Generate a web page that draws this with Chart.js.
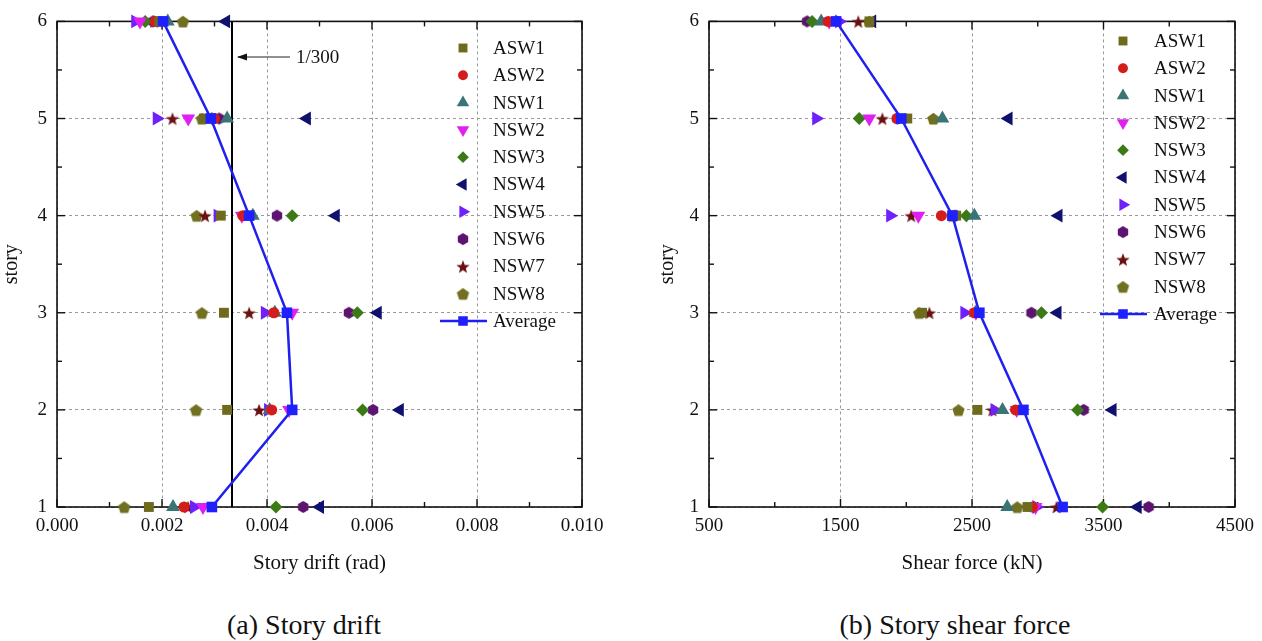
<!DOCTYPE html>
<html>
<head>
<meta charset="utf-8">
<script src="https://cdn.jsdelivr.net/npm/chart.js@4.4.1/dist/chart.umd.min.js"></script>
<style>
  body { margin: 0; background: #fff; width: 1262px; height: 641px; overflow: hidden; position: relative; font-family: "Liberation Serif", "Times New Roman", serif; }
  canvas { position: absolute; top: 0; }
  #drift { left: 0; }
  #shear { left: 650px; }
  .cap { position: absolute; top: 610px; font-size: 28px; line-height: 30px; color: #111; text-align: center; width: 400px; }
</style>
</head>
<body>
<canvas id="drift" width="620" height="580"></canvas>
<canvas id="shear" width="612" height="580"></canvas>
<div class="cap" style="left:104px">(a) Story drift</div>
<div class="cap" style="left:755px">(b) Story shear force</div>
<script>
// stories 1 -> 6
const stories = [1, 2, 3, 4, 5, 6];
const names = ['ASW1', 'ASW2', 'NSW1', 'NSW2', 'NSW3', 'NSW4', 'NSW5', 'NSW6', 'NSW7', 'NSW8'];

// story drift (rad)
const driftASW1 = [0.00175, 0.00324, 0.00318, 0.00312, 0.00280, 0.00195];
const driftASW2 = [0.00242, 0.00409, 0.00413, 0.00354, 0.00300, 0.00187];
const driftNSW1 = [0.00221, 0.00405, 0.00415, 0.00373, 0.00324, 0.00211];
const driftNSW2 = [0.00278, 0.00442, 0.00448, 0.00352, 0.00250, 0.00158];
const driftNSW3 = [0.00417, 0.00582, 0.00572, 0.00448, 0.00295, 0.00168];
const driftNSW4 = [0.00501, 0.00653, 0.00611, 0.00531, 0.00476, 0.00322];
const driftNSW5 = [0.00261, 0.00402, 0.00396, 0.00306, 0.00190, 0.00149];
const driftNSW6 = [0.00469, 0.00602, 0.00556, 0.00419, 0.00309, 0.00183];
const driftNSW7 = [0.00250, 0.00385, 0.00366, 0.00282, 0.00220, 0.00185];
const driftNSW8 = [0.00128, 0.00265, 0.00276, 0.00266, 0.00276, 0.00240];
const driftAverage = [0.00295, 0.00448, 0.00438, 0.00366, 0.00293, 0.00202];

// story shear force (kN)
const shearASW1 = [2922, 2541, 2120, 2380, 2008, 1720];
const shearASW2 = [2960, 2831, 2518, 2267, 1930, 1406];
const shearNSW1 = [2768, 2732, 2526, 2518, 2275, 1353];
const shearNSW2 = [2983, 2840, 2530, 2092, 1719, 1414];
const shearNSW3 = [3493, 3303, 3028, 2457, 1642, 1284];
const shearNSW4 = [3760, 3569, 3150, 3158, 2778, 1741];
const shearNSW5 = [2990, 2671, 2442, 1878, 1315, 1490];
const shearNSW6 = [3843, 3349, 2952, 2373, 1932, 1246];
const shearNSW7 = [3143, 2655, 2176, 2038, 1818, 1635];
const shearNSW8 = [2844, 2397, 2099, 2350, 2206, 1719];
const shearAverage = [3189, 2891, 2556, 2351, 1962, 1467];

// tick labels
const driftTicks = [0, 0.002, 0.004, 0.006, 0.008, 0.010];
const shearTicks = [500, 1500, 2500, 3500, 4500];
const storyTicks = [1, 2, 3, 4, 5, 6];
const driftLimit = 1 / 300;

const colors = ['#6f6b1c', '#d41c1c', '#3b7474', '#e020f0', '#3c7a18', '#10106e', '#7020f8', '#5c1470', '#6a1010', '#707020'];
const avgColor = '#1f1ff0';
const FONT = '"Liberation Serif", "Times New Roman", serif';

function shapeCanvas(kind, color, r) {
  const c = document.createElement('canvas');
  const s = Math.ceil(2 * r + 2);
  c.width = s; c.height = s;
  const g = c.getContext('2d');
  const cx = s / 2, cy = s / 2;
  g.fillStyle = color;
  g.beginPath();
  if (kind === 'hexagon') {
    for (let i = 0; i < 6; i++) {
      const a = Math.PI / 6 + i * Math.PI / 3;
      g.lineTo(cx + r * Math.cos(a), cy + r * Math.sin(a));
    }
  } else if (kind === 'pentagon') {
    for (let i = 0; i < 5; i++) {
      const a = -Math.PI / 2 + i * 2 * Math.PI / 5;
      g.lineTo(cx + r * Math.cos(a), cy + r * Math.sin(a) + 0.8);
    }
  } else {
    for (let i = 0; i < 10; i++) {
      const a = -Math.PI / 2 + i * Math.PI / 5;
      const rr = i % 2 ? r * 0.42 : r;
      g.lineTo(cx + rr * Math.cos(a), cy + rr * Math.sin(a) + 0.8);
    }
  }
  g.closePath();
  g.fill();
  return c;
}

const styles = [
  { pointStyle: 'rect', rotation: 0, radius: 7 },
  { pointStyle: 'circle', rotation: 0, radius: 5.5 },
  { pointStyle: 'triangle', rotation: 0, radius: 8 },
  { pointStyle: 'triangle', rotation: 180, radius: 8 },
  { pointStyle: 'rectRot', rotation: 0, radius: 6.5 },
  { pointStyle: 'triangle', rotation: -90, radius: 8 },
  { pointStyle: 'triangle', rotation: 90, radius: 8 },
  { pointStyle: shapeCanvas('hexagon', colors[7], 6), rotation: 0, radius: 6 },
  { pointStyle: shapeCanvas('star', colors[8], 7), rotation: 0, radius: 7 },
  { pointStyle: shapeCanvas('pentagon', colors[9], 6.5), rotation: 0, radius: 6.5 }
];
const avgStyle = { pointStyle: 'rect', rotation: 0, radius: 7.5 };

function makeDatasets(series, avg) {
  const sets = series.map((vals, i) => ({
    label: names[i],
    data: vals.map((v, k) => ({ x: v, y: stories[k] })),
    showLine: false,
    pointStyle: styles[i].pointStyle,
    pointRotation: styles[i].rotation,
    pointRadius: styles[i].radius,
    pointHoverRadius: styles[i].radius,
    pointBackgroundColor: colors[i],
    pointBorderColor: colors[i],
    pointBorderWidth: 0,
    clip: false
  }));
  sets.push({
    label: 'Average',
    data: avg.map((v, k) => ({ x: v, y: stories[k] })),
    showLine: true,
    borderColor: avgColor,
    borderWidth: 2.5,
    pointStyle: avgStyle.pointStyle,
    pointRadius: avgStyle.radius,
    pointHoverRadius: avgStyle.radius,
    pointBackgroundColor: '#2020ff',
    pointBorderColor: '#2020ff',
    pointBorderWidth: 0,
    order: -1,
    clip: false
  });
  return sets;
}

// frame and inward tick marks
const framePlugin = {
  id: 'frame',
  beforeDatasetsDraw(chart) {
    const { ctx, chartArea: a, scales: { x, y } } = chart;
    ctx.save();
    ctx.strokeStyle = '#111';
    ctx.lineWidth = 1.6;
    ctx.strokeRect(a.left, a.top, a.right - a.left, a.bottom - a.top);
    ctx.lineWidth = 1.4;
    const xt = x.ticks.map(t => t.value);
    const yt = y.ticks.map(t => t.value);
    const tick = (x1, y1, x2, y2) => { ctx.beginPath(); ctx.moveTo(x1, y1); ctx.lineTo(x2, y2); ctx.stroke(); };
    xt.forEach((v, i) => {
      const px = x.getPixelForValue(v);
      tick(px, a.bottom, px, a.bottom - 8);
      tick(px, a.top, px, a.top + 8);
      if (i < xt.length - 1) {
        const pm = x.getPixelForValue((v + xt[i + 1]) / 2);
        tick(pm, a.bottom, pm, a.bottom - 5);
        tick(pm, a.top, pm, a.top + 5);
      }
    });
    yt.forEach((v, i) => {
      const py = y.getPixelForValue(v);
      tick(a.left, py, a.left + 8, py);
      tick(a.right, py, a.right - 8, py);
      if (i < yt.length - 1) {
        const pm = y.getPixelForValue((v + yt[i + 1]) / 2);
        tick(a.left, pm, a.left + 5, pm);
        tick(a.right, pm, a.right - 5, pm);
      }
    });
    const lim = chart.options.plugins.limitLine;
    if (lim && lim.value) {
      const px = x.getPixelForValue(lim.value);
      ctx.lineWidth = 2;
      ctx.strokeStyle = '#000';
      tick(px, a.top, px, a.bottom);
      const ay = lim.y;
      ctx.lineWidth = 1.2;
      ctx.strokeStyle = '#222';
      tick(px + 6, ay, px + 58, ay);
      ctx.fillStyle = '#111';
      ctx.beginPath();
      ctx.moveTo(px + 5, ay);
      ctx.lineTo(px + 15, ay - 3.5);
      ctx.lineTo(px + 15, ay + 3.5);
      ctx.closePath();
      ctx.fill();
      ctx.font = '19px ' + FONT;
      ctx.textBaseline = 'middle';
      ctx.fillText(lim.label, px + 64, ay + 1);
    }
    ctx.restore();
  }
};

// legend inside the plot
const innerLegend = {
  id: 'innerLegend',
  afterDraw(chart) {
    const opt = chart.options.plugins.innerLegend;
    if (!opt) return;
    const { ctx, chartArea: a } = chart;
    const mx = a.right - opt.markerOff;
    const tx = a.right - opt.textOff;
    ctx.save();
    ctx.font = '19px ' + FONT;
    ctx.textBaseline = 'middle';
    chart.data.datasets.forEach((ds, i) => {
      const yy = opt.y0 + i * opt.dy;
      if (ds.showLine) {
        ctx.strokeStyle = ds.borderColor;
        ctx.lineWidth = ds.borderWidth;
        ctx.beginPath();
        ctx.moveTo(mx - 23, yy);
        ctx.lineTo(mx + 24, yy);
        ctx.stroke();
      }
      ctx.fillStyle = ds.pointBackgroundColor;
      ctx.strokeStyle = ds.pointBackgroundColor;
      Chart.helpers.drawPoint(ctx, {
        pointStyle: ds.pointStyle,
        rotation: ds.pointRotation || 0,
        radius: ds.pointRadius * 0.9,
        borderWidth: 0
      }, mx, yy);
      ctx.fillStyle = '#111';
      ctx.fillText(ds.label, tx, yy + 1);
    });
    ctx.restore();
  }
};

function makeChart(id, series, avg, cfg) {
  return new Chart(document.getElementById(id), {
    type: 'scatter',
    data: { datasets: makeDatasets(series, avg) },
    options: {
      responsive: false,
      animation: false,
      events: [],
      layout: { padding: { top: 18, right: cfg.padRight, left: 0, bottom: 0 } },
      plugins: {
        legend: { display: false },
        tooltip: { enabled: false },
        innerLegend: cfg.legend,
        limitLine: cfg.limit
      },
      scales: {
        x: {
          type: 'linear',
          min: cfg.xTicks[0],
          max: cfg.xTicks[cfg.xTicks.length - 1],
          afterBuildTicks: s => { s.ticks = cfg.xTicks.map(v => ({ value: v })); },
          afterFit: s => { s.height = 73; },
          ticks: { callback: cfg.xFormat, color: '#111', padding: 8, maxRotation: 0, font: { family: FONT, size: 19 } },
          grid: { color: '#9a9a9a', lineWidth: 1, drawTicks: false },
          border: { display: false, dash: [3, 3] },
          title: { display: true, text: cfg.xTitle, color: '#111', padding: { top: 0, bottom: 4 }, font: { family: FONT, size: 21 } }
        },
        y: {
          type: 'linear',
          min: 1,
          max: 6,
          afterBuildTicks: s => { s.ticks = storyTicks.map(v => ({ value: v })); },
          afterFit: s => { s.width = cfg.yWidth; },
          ticks: { color: '#111', padding: 10, font: { family: FONT, size: 19 } },
          grid: { color: '#9a9a9a', lineWidth: 1, drawTicks: false },
          border: { display: false, dash: [3, 3] },
          title: { display: true, text: 'story', color: '#111', padding: { top: cfg.yTitlePad, bottom: 0 }, font: { family: FONT, size: 20 } }
        }
      }
    },
    plugins: [framePlugin, innerLegend]
  });
}

makeChart('drift',
  [driftASW1, driftASW2, driftNSW1, driftNSW2, driftNSW3, driftNSW4, driftNSW5, driftNSW6, driftNSW7, driftNSW8],
  driftAverage,
  {
    xTicks: driftTicks,
    xFormat: v => v.toFixed(3),
    xTitle: 'Story drift (rad)',
    padRight: 38,
    yWidth: 57,
    yTitlePad: 0,
    legend: { markerOff: 119, textOff: 89, y0: 48, dy: 27.3 },
    limit: { value: driftLimit, label: '1/300', y: 57 }
  });

makeChart('shear',
  [shearASW1, shearASW2, shearNSW1, shearNSW2, shearNSW3, shearNSW4, shearNSW5, shearNSW6, shearNSW7, shearNSW8],
  shearAverage,
  {
    xTicks: shearTicks,
    xFormat: v => String(v),
    xTitle: 'Shear force (kN)',
    padRight: 26,
    yWidth: 59,
    yTitlePad: 6,
    legend: { markerOff: 112, textOff: 81, y0: 41, dy: 27.3 },
    limit: null
  });
</script>
</body>
</html>
